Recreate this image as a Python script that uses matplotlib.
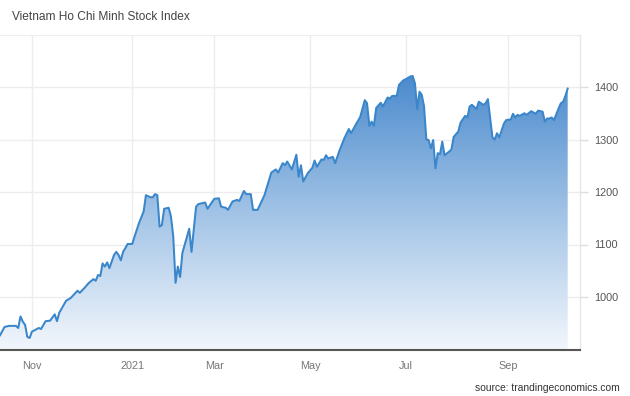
import numpy as np
import matplotlib
matplotlib.use("Agg")
import matplotlib.pyplot as plt
from matplotlib.colors import LinearSegmentedColormap

# trading-session index and index level
sessions = [0, 2, 4, 7, 8, 9, 10, 11, 12, 13, 14, 17, 18, 20, 22, 24, 25, 26, 29, 31,
            34, 35, 37, 39, 41, 42, 43, 44, 45, 46, 47, 48, 50, 51, 52, 53, 54, 56, 58, 59,
            61, 63, 64, 66, 67, 68, 69, 70, 71, 72, 74, 75, 76, 77, 78, 79, 80, 82, 83, 84,
            86, 87, 89, 90, 91, 94, 96, 97, 99, 100, 102, 104, 105, 107, 108, 110, 111, 113, 115, 116,
            118, 119, 121, 122, 124, 125, 126, 128, 130, 131, 132, 133, 135, 137, 138, 139, 141, 142, 143, 144,
            146, 147, 149, 151, 153, 154, 156, 158, 160, 161, 162, 163, 164, 165, 167, 168, 170, 171, 172, 174,
            175, 177, 178, 180, 181, 182, 183, 184, 185, 186, 187, 188, 189, 190, 191, 192, 193, 194, 195, 197,
            198, 199, 201, 202, 204, 205, 206, 207, 209, 210, 212, 213, 214, 216, 217, 218, 219, 221, 222, 224,
            225, 226, 227, 228, 230, 231, 233, 235, 236, 238, 239, 240, 241, 242, 243, 245, 246, 247, 248, 249]
values = [927, 943, 945, 945, 941, 963, 953, 947, 924, 922, 934, 941, 939, 954, 955, 967, 954, 970, 993, 998,
          1012, 1008, 1017, 1027, 1034, 1031, 1042, 1040, 1064, 1058, 1066, 1055, 1080, 1086, 1080, 1070, 1086, 1101, 1101, 1115,
          1141, 1163, 1194, 1190, 1190, 1196, 1194, 1134, 1137, 1168, 1170, 1153, 1115, 1027, 1058, 1038, 1084, 1115, 1130, 1086,
          1172, 1177, 1179, 1180, 1168, 1187, 1188, 1172, 1170, 1166, 1182, 1185, 1183, 1202, 1196, 1196, 1166, 1166, 1185, 1194,
          1223, 1237, 1243, 1237, 1255, 1251, 1258, 1243, 1271, 1229, 1251, 1220, 1236, 1246, 1260, 1248, 1262, 1261, 1270, 1264,
          1267, 1255, 1280, 1302, 1320, 1312, 1328, 1343, 1375, 1369, 1326, 1334, 1326, 1360, 1370, 1363, 1380, 1378, 1383, 1383,
          1404, 1413, 1415, 1420, 1421, 1407, 1358, 1391, 1385, 1363, 1300, 1299, 1283, 1299, 1245, 1274, 1272, 1296, 1270, 1277,
          1281, 1305, 1315, 1332, 1345, 1342, 1363, 1366, 1358, 1372, 1366, 1369, 1377, 1304, 1300, 1312, 1304, 1330, 1337, 1338,
          1349, 1342, 1347, 1345, 1350, 1347, 1354, 1349, 1355, 1353, 1334, 1340, 1340, 1342, 1337, 1359, 1369, 1372, 1383, 1397]

month_ticks = [14, 58, 94, 136, 178, 223]
month_labels = ["Nov", "2021", "Mar", "May", "Jul", "Sep"]
y_ticks = [1000, 1100, 1200, 1300, 1400]

plt.rcParams['font.family'] = ['Liberation Sans', 'DejaVu Sans']

W, H = 630, 396
fig = plt.figure(figsize=(W / 100, H / 100), dpi=100)
fig.patch.set_facecolor("white")
ax = fig.add_axes([0 / W, (H - 349.5) / H, 580 / W, 315 / H])

x_min, x_max = 0, 254.4
y_min, y_max = 900, 1500
ax.set_xlim(x_min, x_max)
ax.set_ylim(y_min, y_max)

grid_c = "#ededed"
for yt in y_ticks + [1500]:
    ax.axhline(yt, color=grid_c, lw=1, zorder=0)
for xt in month_ticks:
    ax.axvline(xt, color=grid_c, lw=1, zorder=0)

x = np.array(sessions, dtype=float)
y = np.array(values, dtype=float)

# gradient fill under the line
cmap = LinearSegmentedColormap.from_list(
    "g", [(0.0, "#f2f6fc"), (0.45, "#a9c8e8"), (1.0, "#4a8acd")])
grad = np.linspace(0, 1, 256).reshape(-1, 1)
poly = ax.fill_between(x, y, y_min, color="none", lw=0)
img = ax.imshow(grad, extent=[x_min, x_max, y_min, 1425], origin="lower",
                aspect="auto", cmap=cmap, zorder=1)
img.set_clip_path(poly.get_paths()[0], transform=ax.transData)
ax.set_xlim(x_min, x_max)
ax.set_ylim(y_min, y_max)

ax.plot(x, y, color="#3a86cb", lw=1.45, zorder=3, solid_joinstyle="round")

# axes styling
for s in ["top", "left"]:
    ax.spines[s].set_visible(False)
ax.spines["right"].set_color("#e6e6e6")
ax.spines["right"].set_linewidth(1)
ax.spines["bottom"].set_color("#555555")
ax.spines["bottom"].set_linewidth(1.5)
ax.spines["bottom"].set_zorder(5)

ax.yaxis.tick_right()
ax.set_yticks(y_ticks)
ax.set_yticklabels([str(v) for v in y_ticks])
ax.tick_params(axis="y", length=6, width=1, color="#dddddd", pad=4,
               labelsize=7.8, labelcolor="#555555", direction="out")
ax.set_xticks(month_ticks)
ax.set_xticklabels(month_labels)
ax.tick_params(axis="x", length=0, pad=8, labelsize=7.8, labelcolor="#777777")

fig.text(12 / W, 1 - 17 / H, "Vietnam Ho Chi Minh Stock Index", fontsize=8.6,
         color="#444444", ha="left", va="center")
fig.text(620 / W, 1 - 388 / H, "source: trandingeconomics.com", fontsize=7.4,
         color="#333333", ha="right", va="center")

fig.savefig("out.png", dpi=100, facecolor="white")
